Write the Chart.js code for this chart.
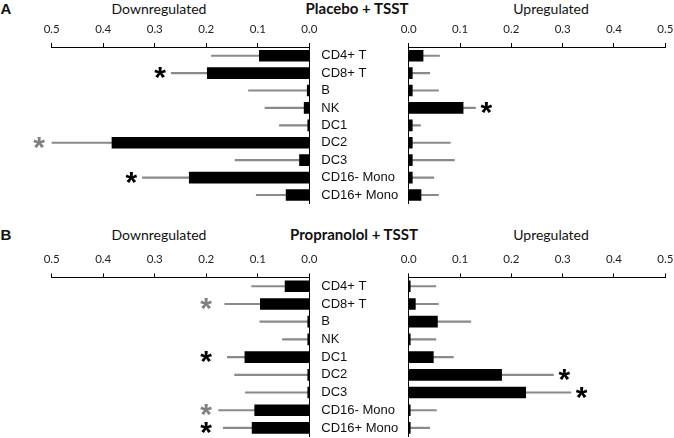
<!DOCTYPE html>
<html>
<head>
<meta charset="utf-8">
<script src="https://cdn.jsdelivr.net/npm/chart.js@4.4.1/dist/chart.umd.min.js"></script>
<style>
  html, body { margin: 0; padding: 0; background: #fff; }
  body { width: 674px; height: 438px; position: relative; overflow: hidden; }
  .box { position: absolute; }
  .lbl { position: absolute; transform: translate(-50%, -50%); white-space: nowrap; color: #111; }
  .head { font: 14px Lato, sans-serif; }
  .title { font: bold 15px Lato, sans-serif; }
  .panel { font: bold 15px "Liberation Sans", Arial, sans-serif; }
</style>
</head>
<body>

<div class="lbl panel" style="left:6px; top:8px;">A</div>
<div class="lbl head" style="left:159px; top:8px;">Downregulated</div>
<div class="lbl title" style="left:357px; top:8px;">Placebo + TSST</div>
<div class="lbl head" style="left:551px; top:8px;">Upregulated</div>

<div class="lbl panel" style="left:6px; top:234px;">B</div>
<div class="lbl head" style="left:159px; top:234px;">Downregulated</div>
<div class="lbl title" style="left:354px; top:234px;">Propranolol + TSST</div>
<div class="lbl head" style="left:551px; top:234px;">Upregulated</div>

<div class="box" style="left:0; top:0; width:400px; height:210px;"><canvas id="aDown"></canvas></div>
<div class="box" style="left:337px; top:0; width:337px; height:210px;"><canvas id="aUp"></canvas></div>
<div class="box" style="left:0; top:230px; width:400px; height:208px;"><canvas id="bDown"></canvas></div>
<div class="box" style="left:337px; top:230px; width:337px; height:208px;"><canvas id="bUp"></canvas></div>

<script>
const cellTypes = ['CD4+ T', 'CD8+ T', 'B', 'NK', 'DC1', 'DC2', 'DC3', 'CD16- Mono', 'CD16+ Mono'];
const tickValues = [0, 0.1, 0.2, 0.3, 0.4, 0.5];

// Placebo + TSST
const placeboDown    = [0.097, 0.198, 0.004, 0.010, 0.003, 0.383, 0.019, 0.233, 0.045];
const placeboDownErr = [0.190, 0.268, 0.118, 0.086, 0.058, 0.503, 0.144, 0.324, 0.103];
const placeboDownSig = [0, 2, 0, 0, 0, 1, 0, 2, 0];
const placeboUp      = [0.028, 0.007, 0.007, 0.106, 0.007, 0.007, 0.007, 0.007, 0.024];
const placeboUpErr   = [0.060, 0.041, 0.058, 0.130, 0.023, 0.081, 0.089, 0.049, 0.058];
const placeboUpSig   = [0, 0, 0, 2, 0, 0, 0, 0, 0];

// Propranolol + TSST
const propDown    = [0.047, 0.095, 0.003, 0.003, 0.125, 0.003, 0.003, 0.106, 0.111];
const propDownErr = [0.112, 0.164, 0.096, 0.052, 0.159, 0.145, 0.124, 0.176, 0.167];
const propDownSig = [0, 1, 0, 0, 2, 0, 0, 1, 2];
const propUp      = [0.003, 0.013, 0.056, 0.003, 0.048, 0.181, 0.228, 0.003, 0.003];
const propUpErr   = [0.053, 0.058, 0.121, 0.053, 0.087, 0.282, 0.316, 0.054, 0.041];
const propUpSig   = [0, 0, 0, 0, 0, 2, 2, 0, 0];

// asterisks: 2 = significant (black), 1 = trend (grey)
function starPlugin(sig, err, column) {
  return {
    id: 'stars',
    afterDatasetsDraw(chart) {
      const ctx = chart.ctx;
      const xs = chart.scales.x, ys = chart.scales.y;
      const dir = xs.options.reverse ? -1 : 1;
      ctx.save();
      ctx.font = 'bold 30px "Liberation Sans", Arial, sans-serif';
      ctx.textAlign = 'left';
      ctx.textBaseline = 'alphabetic';
      const m = ctx.measureText('*');
      sig.forEach((s, i) => {
        if (!s) return;
        const cx = column != null ? xs.getPixelForValue(column) : xs.getPixelForValue(err[i]) + dir * 11;
        const cy = ys.getPixelForValue(i);
        ctx.fillStyle = s === 2 ? '#000' : '#808080';
        const x0 = cx - (m.actualBoundingBoxRight - m.actualBoundingBoxLeft) / 2;
        const y0 = cy + (m.actualBoundingBoxAscent - m.actualBoundingBoxDescent) / 2;
        ctx.fillText('*', x0, y0);
      });
      ctx.restore();
    }
  };
}

function makeChart(id, values, errs, sig, side, axisH, pad, column) {
  const down = side === 'down';
  return new Chart(document.getElementById(id), {
    type: 'bar',
    data: {
      labels: cellTypes,
      datasets: [
        {
          data: values,
          backgroundColor: '#000',
          barThickness: 11,
          grouped: false,
          order: 0
        },
        {
          data: errs.map(e => [0, e]),
          backgroundColor: '#8a8a8a',
          barThickness: 1.5,
          grouped: false,
          order: 1
        }
      ]
    },
    options: {
      indexAxis: 'y',
      responsive: true,
      maintainAspectRatio: false,
      animation: false,
      events: [],
      layout: { padding: pad },
      plugins: {
        legend: { display: false },
        title: { display: false },
        tooltip: { enabled: false }
      },
      scales: {
        x: {
          position: 'top',
          reverse: down,
          min: 0,
          max: 0.5,
          afterBuildTicks: s => { s.ticks = tickValues.map(v => ({ value: v })); },
          afterFit: s => { s.height = axisH; s.paddingLeft = 0; s.paddingRight = 0; },
          grid: { drawOnChartArea: false, drawTicks: true, tickLength: 4, color: '#000', lineWidth: 1 },
          border: { display: true, color: '#000', width: 1 },
          ticks: {
            callback: v => Number(v).toFixed(1),
            padding: 7,
            maxRotation: 0,
            color: '#222',
            font: { family: 'Lato', size: 11.5 }
          }
        },
        y: {
          position: down ? 'right' : 'left',
          afterFit: s => { s.width = down ? 90.7 : 71.7; s.paddingTop = 0; s.paddingBottom = 0; },
          grid: { drawOnChartArea: false, drawTicks: false },
          border: { display: true, color: '#000', width: 1 },
          ticks: {
            display: down,
            autoSkip: false,
            padding: 12,
            color: '#111',
            font: { family: '"Liberation Sans", Arial, sans-serif', size: 13 }
          }
        }
      }
    },
    plugins: [starPlugin(sig, errs, column)]
  });
}

makeChart('aDown', placeboDown, placeboDownErr, placeboDownSig, 'down', 47, { left: 51.7, right: 0, top: 0, bottom: 6.3 }, null);
makeChart('aUp', placeboUp, placeboUpErr, placeboUpSig, 'up', 47, { left: 0, right: 8.7, top: 0, bottom: 6.3 }, null);
makeChart('bDown', propDown, propDownErr, propDownSig, 'down', 47.4, { left: 51.7, right: 0, top: 0, bottom: 1.2 }, 0.2);
makeChart('bUp', propUp, propUpErr, propUpSig, 'up', 47.4, { left: 0, right: 8.7, top: 0, bottom: 1.2 }, null);
</script>
</body>
</html>
